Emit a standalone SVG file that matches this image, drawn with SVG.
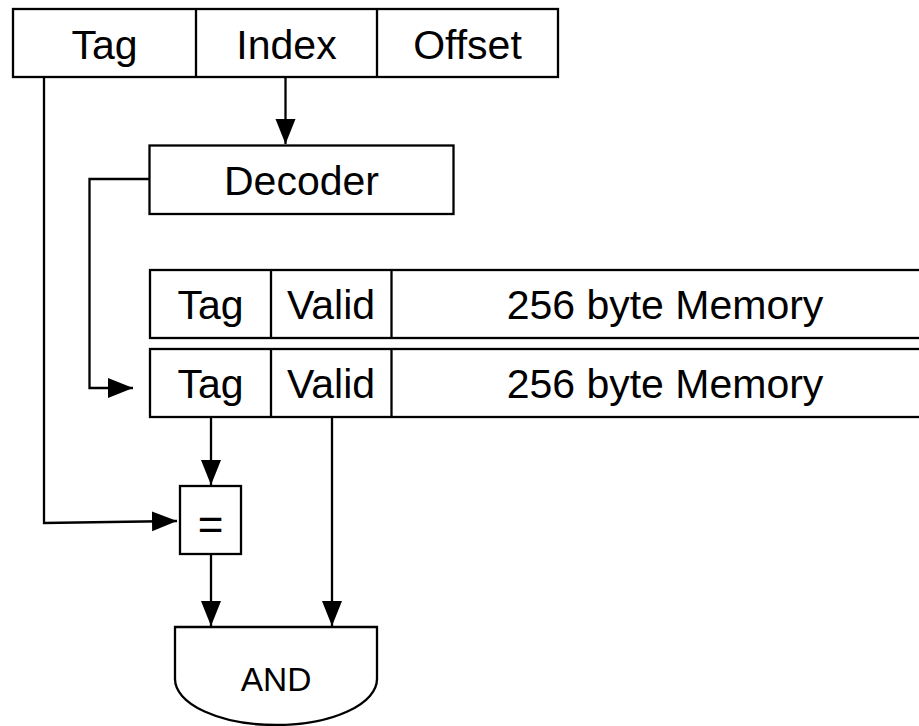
<svg xmlns="http://www.w3.org/2000/svg" width="919" height="726" viewBox="0 0 919 726">
<style>
.box{fill:#fff;stroke:#000;stroke-width:2.3}
.ln{fill:none;stroke:#000;stroke-width:2.3}
.t{font-family:"Liberation Sans",Arial,sans-serif;font-size:41px;fill:#000;text-anchor:middle}
.s{font-family:"Liberation Sans",Arial,sans-serif;font-size:33.5px;fill:#000;text-anchor:middle}
</style>
<defs>
<marker id="arr" markerUnits="userSpaceOnUse" markerWidth="27" markerHeight="22" refX="25" refY="10" orient="auto">
<path d="M0,0 L25,10 L0,20 Z" fill="#000"/>
</marker>
</defs>
<rect width="919" height="726" fill="#fff"/>
<g id="address">
<rect class="box" x="13" y="9" width="545" height="68"/>
<line class="ln" x1="196" y1="9" x2="196" y2="77"/>
<line class="ln" x1="377" y1="9" x2="377" y2="77"/>
<text class="t" x="104.5" y="59">Tag</text>
<text class="t" x="286.5" y="59">Index</text>
<text class="t" x="467.5" y="59">Offset</text>
</g>
<g id="decoder">
<rect class="box" x="149.5" y="145.5" width="304" height="68.5"/>
<text class="t" x="301.5" y="195">Decoder</text>
</g>
<g id="row1">
<rect class="box" x="150" y="270" width="800" height="68"/>
<line class="ln" x1="271" y1="270" x2="271" y2="338"/>
<line class="ln" x1="391.5" y1="270" x2="391.5" y2="338"/>
<text class="t" x="210.5" y="319">Tag</text>
<text class="t" x="331" y="319">Valid</text>
<text class="t" x="665" y="319">256 byte Memory</text>
</g>
<g id="row2">
<rect class="box" x="150" y="349" width="800" height="68"/>
<line class="ln" x1="271" y1="349" x2="271" y2="417"/>
<line class="ln" x1="391.5" y1="349" x2="391.5" y2="417"/>
<text class="t" x="210.5" y="398">Tag</text>
<text class="t" x="331" y="398">Valid</text>
<text class="t" x="665" y="398">256 byte Memory</text>
</g>
<g id="compare">
<rect class="box" x="180" y="486" width="61" height="68"/>
<text class="t" x="210.5" y="540" style="font-size:44px">=</text>
</g>
<g id="and">
<path class="box" d="M175,627 H377 V679 A101,46 0 0 1 175,679 Z"/>
<text class="s" x="276" y="690.5">AND</text>
</g>
<g id="connectors">
<path class="ln" d="M44,77 V523 L177,521" marker-end="url(#arr)"/>
<path class="ln" d="M285.5,77 V144" marker-end="url(#arr)"/>
<path class="ln" d="M149.5,179 H89.5 V388 H133" marker-end="url(#arr)"/>
<path class="ln" d="M211,417 V485" marker-end="url(#arr)"/>
<path class="ln" d="M332,417 V626" marker-end="url(#arr)"/>
<path class="ln" d="M211,554 V626" marker-end="url(#arr)"/>
</g>
</svg>
